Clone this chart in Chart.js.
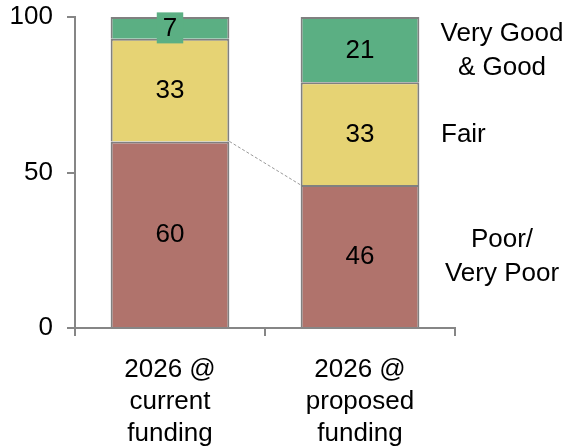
<!DOCTYPE html>
<html>
<head>
<meta charset="utf-8">
<script src="https://cdn.jsdelivr.net/npm/chart.js@4/dist/chart.umd.min.js"></script>
<style>
  html, body { margin: 0; padding: 0; background: #fff; }
  #wrap { width: 567px; height: 447px; }
</style>
</head>
<body>
<div id="wrap"><canvas id="chart-condition"></canvas></div>
<script>
// categories + series (percent of network)
const categories = [["2026 @", "current", "funding"], ["2026 @", "proposed", "funding"]];
const poorValues = [60, 46];
const fairValues = [33, 33];
const goodValues = [7, 21];
const seriesNames = [["Poor/", "Very Poor"], ["Fair"], ["Very Good", "& Good"]];
const yTicks = [0, 50, 100];

const FONT = "'Liberation Sans', Arial, sans-serif";
const GRAY = "#868686";

// labels inside bars + the names on the right + dashed connector
const labelsPlugin = {
  id: "labels",
  afterDatasetsDraw(chart) {
    const ctx = chart.ctx;
    ctx.save();

    // dashed line between tops of the "poor" segments
    const poorMeta = chart.getDatasetMeta(0);
    const b0 = poorMeta.data[0], b1 = poorMeta.data[1];
    ctx.strokeStyle = "#999";
    ctx.lineWidth = 1;
    ctx.setLineDash([3, 2]);
    ctx.beginPath();
    ctx.moveTo(b0.x + b0.width / 2, b0.y);
    ctx.lineTo(b1.x - b1.width / 2, b1.y);
    ctx.stroke();
    ctx.setLineDash([]);

    ctx.font = "26px " + FONT;
    ctx.textAlign = "center";
    ctx.textBaseline = "middle";

    chart.data.datasets.forEach((ds, i) => {
      const meta = chart.getDatasetMeta(i);
      meta.data.forEach((bar, j) => {
        const v = ds.data[j];
        const cy = (bar.y + bar.base) / 2;
        const txt = String(v);
        if (bar.base - bar.y < 30) {
          // small segment: label gets a box in the series colour
          const w = ctx.measureText(txt).width + 12;
          ctx.fillStyle = ds.backgroundColor;
          ctx.fillRect(bar.x - w / 2, cy - 15.5, w, 31);
        }
        ctx.fillStyle = "#000";
        ctx.fillText(txt, bar.x, cy + 1);
      });
    });

    // series names, lined up with the second bar
    const right = chart.chartArea.right;
    const lineH = 34;
    chart.data.datasets.forEach((ds, i) => {
      const bar = chart.getDatasetMeta(i).data[1];
      const cy = (bar.y + bar.base) / 2;
      const lines = seriesNames[i];
      ctx.textAlign = lines.length === 1 ? "left" : "center";
      const x = lines.length === 1 ? right - 14 : right + 47;
      lines.forEach((ln, k) => {
        ctx.fillStyle = "#000";
        ctx.fillText(ln, x, cy + (k - (lines.length - 1) / 2) * lineH + 1);
      });
    });

    ctx.restore();
  }
};

const barStyle = {
  borderColor: "#808080",
  borderWidth: 2,
  borderSkipped: "start",
  barPercentage: 0.625,
  categoryPercentage: 1
};

new Chart(document.getElementById("chart-condition"), {
  type: "bar",
  data: {
    labels: categories,
    datasets: [
      Object.assign({ label: "Poor/Very Poor", data: poorValues, backgroundColor: "#B0736C" }, barStyle),
      Object.assign({ label: "Fair", data: fairValues, backgroundColor: "#E6D374" }, barStyle),
      Object.assign({ label: "Very Good & Good", data: goodValues, backgroundColor: "#5BAF83" }, barStyle)
    ]
  },
  options: {
    responsive: true,
    maintainAspectRatio: false,
    animation: false,
    layout: { padding: { top: 17, right: 112, left: 0, bottom: 0 } },
    plugins: {
      legend: { display: false },
      tooltip: { enabled: false }
    },
    scales: {
      x: {
        stacked: true,
        grid: { drawOnChartArea: false, tickLength: 8, color: GRAY, lineWidth: 2 },
        border: { color: GRAY, width: 2 },
        ticks: {
          color: "#000",
          font: { family: FONT, size: 26, lineHeight: 1.23 },
          padding: 18,
          maxRotation: 0
        },
        afterFit: (s) => { s.height = 119; }
      },
      y: {
        stacked: true,
        min: 0,
        max: 100,
        afterBuildTicks: (s) => { s.ticks = yTicks.map(v => ({ value: v })); },
        grid: { drawOnChartArea: false, tickLength: 8, color: GRAY, lineWidth: 2 },
        border: { color: GRAY, width: 2 },
        ticks: {
          color: "#000",
          font: { family: FONT, size: 26 },
          padding: 14
        },
        afterFit: (s) => {
          s.width = 75;
          s.paddingTop = 0;
          s.paddingBottom = 0;
        }
      }
    }
  },
  plugins: [labelsPlugin]
});
</script>
</body>
</html>
